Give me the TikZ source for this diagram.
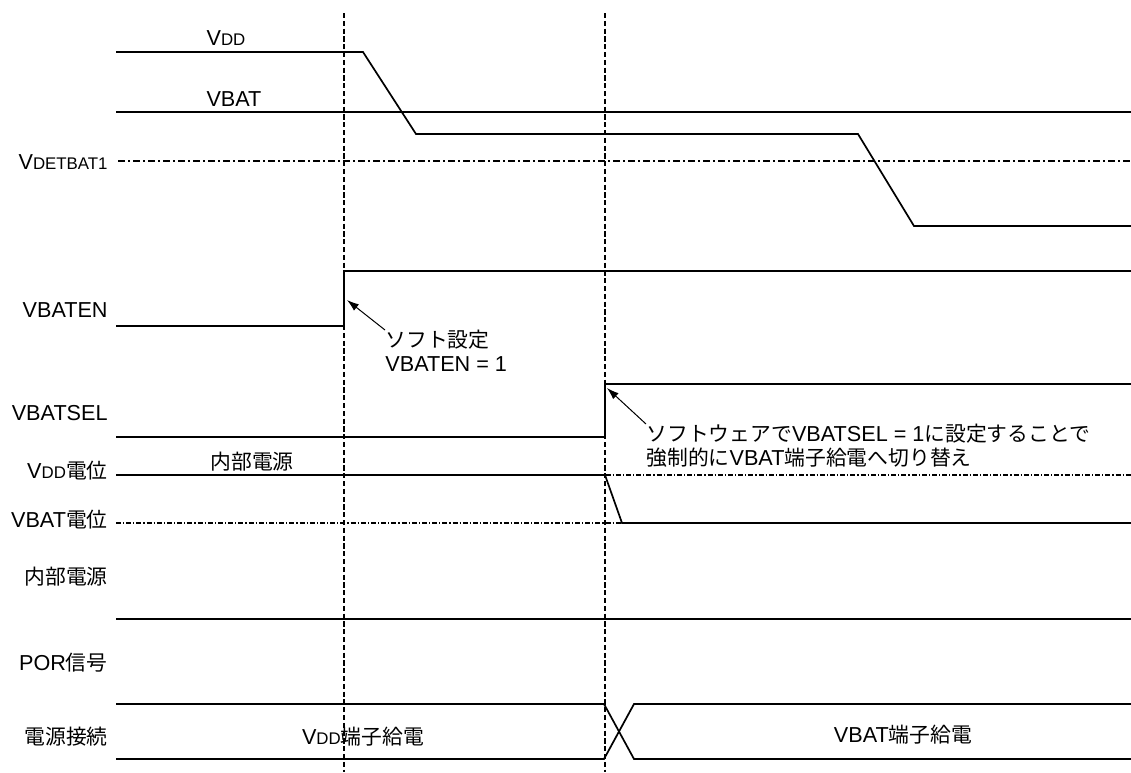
\documentclass[tikz,border=0pt]{standalone}
\usepackage{fontspec}
\setmainfont{Liberation Sans}[Scale=1.04]
\newfontfamily\jp{Noto Sans CJK JP}
\usetikzlibrary{arrows.meta}
\newcommand{\sm}[1]{{\fontsize{8.1pt}{9pt}\selectfont #1}}

\begin{document}
\begin{tikzpicture}[x=0.5pt, y=-0.5pt, font=\fontsize{10.4pt}{12pt}\selectfont,
    wave/.style={line width=0.85pt},
    refline/.style={line width=1pt, dash pattern=on 3.5pt off 1.5pt on 1pt off 1.5pt},
    thinref/.style={line width=0.55pt, dash pattern=on 2.5pt off 1pt on 0.6pt off 1pt},
    marker/.style={line width=0.9pt, dash pattern=on 2.6pt off 1.3pt},
    lbl/.style={anchor=east, inner sep=0pt},
    note/.style={anchor=north west, align=left, inner sep=0pt},
    arr/.style={line width=0.5pt, -{Latex[length=6pt,width=4pt]}}]
  \useasboundingbox (0,0) rectangle (1131,772);

  % signal names on the left
  \foreach \y/\t in {162/{V\sm{DETBAT1}}, 310/VBATEN, 413/VBATSEL,
      471/{V\sm{DD}{\jp 電位}}, 520/{VBAT{\jp 電位}}, 577/{\jp 内部電源},
      663/{POR{\jp 信号}}, 737/{\jp 電源接続}} {
    \node[lbl] (lbl\y) at (108,\y) {\t};
  }

  % level names
  \node (vddname) at (226,38) {V\sm{DD}};
  \node (vbatname) at (234,99) {VBAT};
  \node (intname) at (252,462) {\jp 内部電源};

  % reference levels
  \draw[refline] (118,161) -- (1131,161);
  \draw[thinref] (116,475) -- (1131,475);
  \draw[thinref] (116,523) -- (1131,523);

  % supply voltages
  \draw[wave] (116,52) -- (363,52) -- (416,134) -- (858,134) -- (914,226) -- (1131,226);
  \draw[wave] (116,112) -- (1131,112);

  % control bits
  \draw[wave] (116,326) -- (344,326) -- (344,271) -- (1131,271);
  \draw[wave] (116,437) -- (605,437) -- (605,384) -- (1131,384);

  % internal supply
  \draw[wave] (116,475) -- (605,475) -- (622,523) -- (1131,523);
  \draw[wave] (116,619) -- (1131,619);

  % supply connection bus
  \draw[wave] (116,704) -- (604,704) -- (634,759) -- (1131,759);
  \draw[wave] (116,759) -- (604,759) -- (634,704) -- (1131,704);
  \node (vddfeed) at (363,737) {V\sm{DD}{\jp 端子給電}};
  \node (vbatfeed) at (903,735) {VBAT{\jp 端子給電}};

  % timing markers
  \draw[marker] (344,13) -- (344,772);
  \draw[marker] (605,13) -- (605,772);

  % notes
  \coordinate (entip) at (347,300);
  \coordinate (seltip) at (607,388);
  \node[note] (note1) at (385,330) {{\jp ソフト設定}\\VBATEN = 1};
  \node[note] (note2) at (646,424) {{\jp ソフトウェアで}VBATSEL = 1{\jp に設定することで}\\{\jp 強制的に}VBAT{\jp 端子給電へ切り替え}};
  \draw[arr] (note1.north west) -- (entip);
  \draw[arr] (note2.north west) -- (seltip);
\end{tikzpicture}
\end{document}
